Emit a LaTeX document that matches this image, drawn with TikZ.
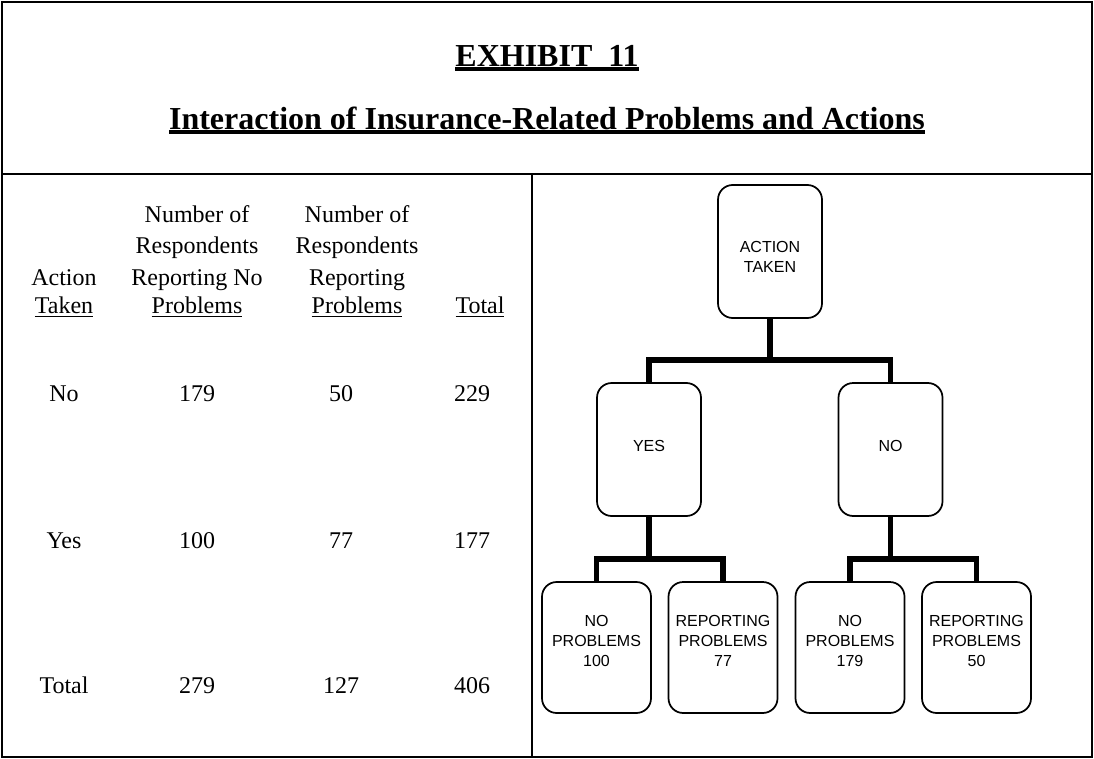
\documentclass[tikz,border=0pt]{standalone}
\usepackage{fontspec}
\setmainfont{Liberation Serif}
\newfontfamily\boxfont{Liberation Sans}
\newcommand\undl[2][0.9pt]{\setbox0\hbox{#2}\rlap{\rule[-2.8pt]{\wd0}{#1}}\box0}
\tikzset{
  frame/.style={line width=2pt},
  tbox/.style={draw,line width=1.3pt,rounded corners=11pt,minimum width=78pt,minimum height=99.75pt,inner sep=0pt},
  leaf/.style={tbox,minimum width=81.75pt,minimum height=98.25pt},
  boxtext/.style={anchor=center,inner sep=0pt,align=center,font=\boxfont\fontsize{12}{15}\selectfont},
  link/.style={line width=4.2pt},
  tcell/.style={inner sep=0pt,anchor=base,font=\fontsize{18}{22}\selectfont},
  ttl/.style={inner sep=0pt,anchor=base,font=\bfseries\fontsize{24}{28}\selectfont}
}
\begin{document}
\begin{tikzpicture}[x=0.75pt,y=-0.75pt]
\useasboundingbox (0,0) rectangle (1094,759);
% frame and rules
\draw[frame] (2,2) rectangle (1092,757);
\draw[frame] (2,174) -- (1092,174);
\draw[frame] (532,174) -- (532,757);
% title
\node[ttl] (exh) at (547,67) {\undl[3pt]{EXHIBIT\ \ 11}};
\node[ttl] (ttl) at (547,130) {\undl[3pt]{Interaction of Insurance-Related Problems and Actions}};

% table head
\node[tcell] (hact1) at (64,285) {Action};
\node[tcell] (hact2) at (64,313) {\undl{Taken}};
\node[tcell] (hno1) at (197,223) {Number of};
\node[tcell] (hno2) at (197,253) {Respondents};
\node[tcell] (hno3) at (197,285) {Reporting No};
\node[tcell] (hno4) at (197,313) {\undl{Problems}};
\node[tcell] (hyes1) at (357,223) {Number of};
\node[tcell] (hyes2) at (357,253) {Respondents};
\node[tcell] (hyes3) at (357,285) {Reporting};
\node[tcell] (hyes4) at (357,313) {\undl{Problems}};
\node[tcell] (htot) at (480,313) {\undl{Total}};

% table rows
\foreach \lbl/\a/\b/\c/\y [count=\i] in {No/179/50/229/401,Yes/100/77/177/548,Total/279/127/406/693}{
  \node[tcell] (r\i-lbl) at (64,\y) {\lbl};
  \node[tcell] (r\i-no) at (197,\y) {\a};
  \node[tcell] (r\i-rep) at (341,\y) {\b};
  \node[tcell] (r\i-tot) at (472,\y) {\c};
}

% tree
\node[tbox,label={[boxtext,yshift=-4pt]center:ACTION\\TAKEN}] (act) at (770,251.5) {};
\node[tbox,label={[boxtext,yshift=3pt]center:YES}] (yes) at (649,449.5) {};
\node[tbox,label={[boxtext,yshift=3pt]center:NO}] (no) at (890.5,449.5) {};
\node[leaf,label={[boxtext,yshift=5pt]center:NO\\PROBLEMS\\100}] (yesno) at (596.5,647.5) {};
\node[leaf,label={[boxtext,yshift=5pt]center:REPORTING\\PROBLEMS\\77}] (yesrep) at (723,647.5) {};
\node[leaf,label={[boxtext,yshift=5pt]center:NO\\PROBLEMS\\179}] (nono) at (850,647.5) {};
\node[leaf,label={[boxtext,yshift=5pt]center:REPORTING\\PROBLEMS\\50}] (norep) at (976.5,647.5) {};

\draw[link] (act.south) -- ++(0,41) -| (yes.north);
\draw[link] (act.south) -- ++(0,41) -| (no.north);
\draw[link] (yes.south) -- ++(0,42) -| (yesno.north);
\draw[link] (yes.south) -- ++(0,42) -| (yesrep.north);
\draw[link] (no.south) -- ++(0,42) -| (nono.north);
\draw[link] (no.south) -- ++(0,42) -| (norep.north);
\end{tikzpicture}
\end{document}
